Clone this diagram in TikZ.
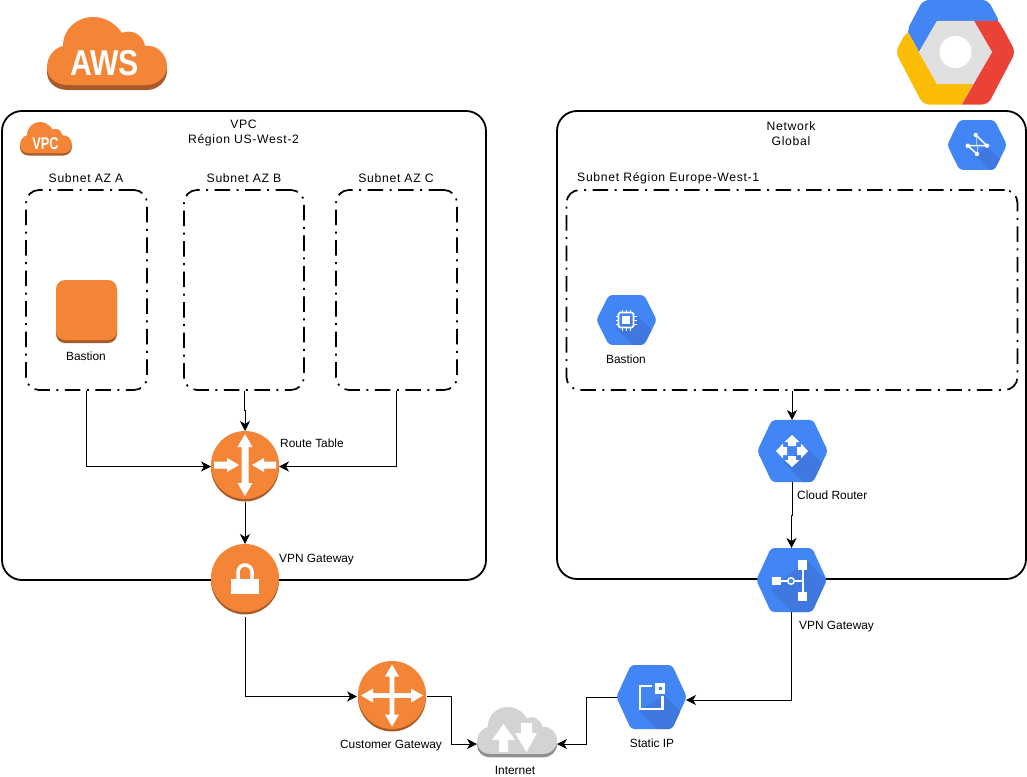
\documentclass[tikz,border=0pt]{standalone}
\usepackage{fontspec}
\setmainfont{Liberation Sans}
\newfontfamily\widefont[LetterSpace=5.5]{Liberation Sans}
\usetikzlibrary{arrows.meta,calc}
\definecolor{awsor}{HTML}{F58536}
\definecolor{awsdk}{HTML}{A85A2B}
\definecolor{gblue}{HTML}{4285F4}
\definecolor{gdark}{HTML}{3F78DE}
\definecolor{gred}{HTML}{EA4335}
\definecolor{gyel}{HTML}{FBBC05}
\definecolor{ggrey}{HTML}{E0E0E0}
\definecolor{clgrey}{HTML}{D2D3D3}
\definecolor{cldark}{HTML}{8F9090}
\tikzset{
  box/.style={draw=black,line width=1.8pt,rounded corners=20pt,inner sep=0pt},
  subnetbox/.style={draw=black,line width=1.7pt,rounded corners=13pt,inner sep=0pt,
     dash pattern=on 15.5pt off 6.5pt on 2pt off 6.5pt},
  anchorbox/.style={inner sep=0pt,outer sep=0pt},
  lab/.style={inner sep=0pt,font=\fontsize{11.9}{14}\selectfont},
  sublab/.style={inner sep=0pt,font=\widefont\fontsize{12.2}{15}\selectfont,align=center},
  conn/.style={draw=black,line width=0.9pt,-{Stealth[length=10pt,width=10pt,inset=3pt]}}
}
\def\hexp{(-36,0) -- (-21,-32) -- (21,-32) -- (36,0) -- (21,32) -- (-21,32) -- cycle}
\def\cloudp{(21,68) .. controls (8,68) and (0,60) .. (0,50) .. controls (0,40) and (7,31) .. (16,29) .. controls (16,12) and (30,0) .. (46,0) .. controls (58,0) and (68,6) .. (75,16) .. controls (84,12) and (96,17) .. (98,29) .. controls (110,27) and (120,38) .. (120,49) .. controls (120,60) and (110,68) .. (100,68) -- cycle}
% hexagon: cx cy xs ys P Q
\newcommand\hexicon[6]{%
  \begin{scope}[shift={(#1,#2)},xscale=#3,yscale=#4]
    \fill[gblue,rounded corners=3.5pt] \hexp;
    \begin{scope}
      \clip[rounded corners=3.5pt] \hexp;
      \fill[gdark] (#5) -- ($(#5)+(70,70)$) -- ($(#6)+(70,70)$) -- (#6) -- cycle;
    \end{scope}
  \end{scope}}
% cloud: x y xs ys fill shadow
\newcommand\cloudicon[6]{%
  \begin{scope}[shift={(#1,#2)},xscale=#3,yscale=#4]
    \fill[#6,shift={(0,5)}] \cloudp;
    \fill[#5] \cloudp;
  \end{scope}}
% disc: cx cy
\newcommand\disc[2]{%
  \fill[awsdk] (#1,#2+2.5) circle (34pt);
  \fill[awsor] (#1,#2) circle (34pt);}
% white arrow: x y angle start len headlen headw shaftw
\newcommand\warr[8]{%
  \begin{scope}[shift={(#1,#2)},rotate=#3]
    \fill[white] (#4,-#8/2) -- (#4+#5-#6,-#8/2) -- (#4+#5-#6,-#7/2) -- (#4+#5,0)
       -- (#4+#5-#6,#7/2) -- (#4+#5-#6,#8/2) -- (#4,#8/2) -- cycle;
  \end{scope}}
\begin{document}
\begin{tikzpicture}[x=1pt,y=-1pt]
\useasboundingbox (0,0) rectangle (1027,776);

% containers
\node[box,minimum width=484pt,minimum height=469pt] (vpc) at (244,345.5) {};
\node[box,minimum width=469pt,minimum height=468pt] (net) at (791.5,345) {};
\node[subnetbox,minimum width=121pt,minimum height=200pt] (subA) at (86.5,290) {};
\node[subnetbox,minimum width=120pt,minimum height=200pt] (subB) at (244,290) {};
\node[subnetbox,minimum width=121pt,minimum height=200pt] (subC) at (396.5,290) {};
\node[subnetbox,minimum width=451pt,minimum height=200pt] (subE) at (792,290) {};

% anchors of icons
\node[anchorbox,minimum width=68pt,minimum height=71pt] (rt) at (245,466.5) {};
\node[anchorbox,minimum width=68pt,minimum height=73pt] (vgw) at (245,580.5) {};
\node[anchorbox,minimum width=70pt,minimum height=71pt] (cgw) at (392,696.5) {};
\node[anchorbox,minimum width=80pt,minimum height=52pt] (inet) at (517,733) {};
\node[anchorbox,minimum width=69pt,minimum height=64pt] (sip) at (651.5,697) {};
\node[anchorbox,minimum width=69pt,minimum height=62pt] (crt) at (792,451) {};
\node[anchorbox,minimum width=69pt,minimum height=64pt] (gvpn) at (791.5,580) {};
\node[anchorbox,minimum width=61pt,minimum height=63pt] (bastA) at (86.5,311.5) {};
\node[anchorbox,minimum width=59pt,minimum height=50pt] (bastE) at (626.5,320) {};

% connectors
\draw[conn] (subA.south) |- (rt.west);
\draw[conn] (subB.south) -- ++(0,20) -| (rt.north);
\draw[conn] (subC.south) |- (rt.east);
\draw[conn] (rt.south) -- (vgw.north);
\draw[conn] (vgw.south) |- (cgw.west);
\draw[conn] (cgw.east) -- ++(24,0) |- ([yshift=-11pt]inet.west);
\draw[conn] (sip.west) -- ++(-31,0) |- ([yshift=-11pt]inet.east);
\draw[conn] (gvpn.south) |- ([yshift=-3pt]sip.east);
\draw[conn] (subE.south) -- (crt.north);
\draw[conn] (crt.south) -- ++(0,33) -| (gvpn.north);

% AWS logo
\cloudicon{47}{17}{1}{1}{awsor}{awsdk}
\node[inner sep=0pt,text=white,font=\bfseries\fontsize{36}{36}\selectfont,xscale=.84] (awstxt) at (104.5,63) {AWS};
% VPC logo
\cloudicon{20}{122}{.433}{.46}{awsor}{awsdk}
\node[inner sep=0pt,text=white,font=\bfseries\fontsize{17}{17}\selectfont,xscale=.75] (vpctxt) at (45.5,144) {VPC};

% GCP logo
\begin{scope}
\clip[rounded corners=6pt] (923,0) -- (988,0) -- (1015.5,52) -- (988,104.5) -- (923,104.5) -- (895.5,52) -- cycle;
\fill[gblue] (908,32) -- (915,0) -- (996,0) -- (998,21) -- (937,21) -- (919,52) -- cycle;
\fill[gyel] (908,32) -- (890,52) -- (915,106) -- (961,106) -- (973,84) -- (937,84) -- (919,52) -- cycle;
\fill[gred] (974,21) -- (998,21) -- (1020,52) -- (990,106) -- (961,106) -- (992,52) -- cycle;
\end{scope}
\fill[ggrey] (937,21) -- (974,21) -- (992,52) -- (973,84) -- (937,84) -- (919,52) -- cycle;
\fill[white] (955.5,52) circle (16pt);

% route table
\disc{245}{465}
\warr{245}{465}{90}{0}{31}{13}{15}{7}
\warr{245}{465}{270}{0}{31}{13}{15}{7}
\warr{214}{465}{0}{0}{25}{12}{14}{7}
\warr{276}{465}{180}{0}{24}{12}{14}{7}
% aws vpn
\disc{245}{578}
\fill[white] (231,579) rectangle (259,594);
\draw[white,line width=3.5pt] (238,580) -- (238,572) arc[start angle=180,end angle=0,radius=7pt] -- (252,580);
% customer gateway
\disc{392}{695}
\foreach \a in {0,90,180,270}{\warr{392}{695.5}{\a}{0}{31}{12}{14}{4.6}}
% internet
\cloudicon{477}{707}{.667}{.69}{clgrey}{cldark}
\fill[white] (499,752) -- (499,740) -- (492,740) -- (503.5,724) -- (515,740) -- (508,740) -- (508,752) -- cycle;
\fill[white] (521,723) -- (532,723) -- (532,733) -- (537,733) -- (526.5,752) -- (515,733) -- (521,733) -- cycle;
% aws bastion
\fill[awsdk,rounded corners=9pt] (56,284) rectangle (117,343);
\fill[awsor,rounded corners=9pt] (56,280) rectangle (117,340);

% cloud router
\hexicon{792.5}{451}{.98}{.97}{14,-4}{-9,12}
\foreach \a in {0,90,180,270}{\warr{792}{451}{\a}{5}{11}{7}{15}{8}}
% gcp vpn
\hexicon{791.5}{580}{.98}{1}{15,-20}{-21,10}
\fill[white] (772,577) rectangle (781,585);
\fill[white] (798,560) rectangle (807,570);
\fill[white] (798,592) rectangle (807,601);
\draw[white,line width=2pt] (781,581) -- (802.5,581) (802.5,570) -- (802.5,592);
\draw[white,line width=1.5pt,fill=gblue] (791,581) circle (3.3pt);
% static ip
\hexicon{651.5}{697}{.98}{1}{13,-2}{-12,14}
\draw[white,line width=2.6pt] (652,686) -- (640,686) -- (640,709) -- (662.5,709) -- (662.5,696);
\fill[white] (655,683) rectangle (665,694);
\fill[gblue] (658.5,686.5) rectangle (661.5,690);
% gcp bastion
\hexicon{626.5}{320}{.84}{.78}{14,-4}{-12,12}
\draw[white,line width=1.6pt,rounded corners=1.5pt] (618.5,312.5) rectangle (633.5,327.5);
\fill[white] (622,316) rectangle (630,324);
\draw[white,line width=1pt]
  (622,309.5) -- (622,312) (626,309.5) -- (626,312) (630,309.5) -- (630,312)
  (622,328) -- (622,330.5) (626,328) -- (626,330.5) (630,328) -- (630,330.5)
  (615.5,316) -- (618,316) (615.5,320) -- (618,320) (615.5,324) -- (618,324)
  (634,316) -- (636.5,316) (634,320) -- (636.5,320) (634,324) -- (636.5,324);
% network icon
\hexicon{977}{145}{.83}{.78}{12,2}{-4,12}
\draw[white,line width=1.5pt] (975.7,135) -- (987,145.7) -- (967.7,145.7) -- (977,154);
\draw[white!60!gblue,line width=.8pt] (976,135) -- (976,145) (977,146) -- (977,154);
\foreach \p in {(975.7,135),(987,145.7),(967.7,145.7),(977,154)}{\fill[white] \p circle (2.2pt);}

% labels
\node[sublab] (lvpc) at (243.5,133.5) {VPC\\Région US-West-2};
\node[sublab] (lsa) at (86,178.5) {Subnet AZ A};
\node[sublab] (lsb) at (244,178.5) {Subnet AZ B};
\node[sublab] (lsc) at (396,178.5) {Subnet AZ C};
\node[sublab] (lnet) at (791,133.5) {Network\\Global};
\node[sublab,anchor=west] (lse) at (577,178.5) {Subnet Région Europe-West-1};
\node[lab] (lb1) at (86,356) {Bastion};
\node[lab] (lb2) at (626,359) {Bastion};
\node[lab,anchor=west] (lrt) at (280,443) {Route Table};
\node[lab,anchor=west] (lvg) at (279,560) {VPN Gateway};
\node[lab,anchor=west] (lcr) at (797,495) {Cloud Router};
\node[lab,anchor=west] (lgv) at (799,627) {VPN Gateway};
\node[lab] (lcg) at (391,746) {Customer Gateway};
\node[lab] (lip) at (652,743.5) {Static IP};
\node[lab] (lin) at (515,770.5) {Internet};
\end{tikzpicture}
\end{document}
